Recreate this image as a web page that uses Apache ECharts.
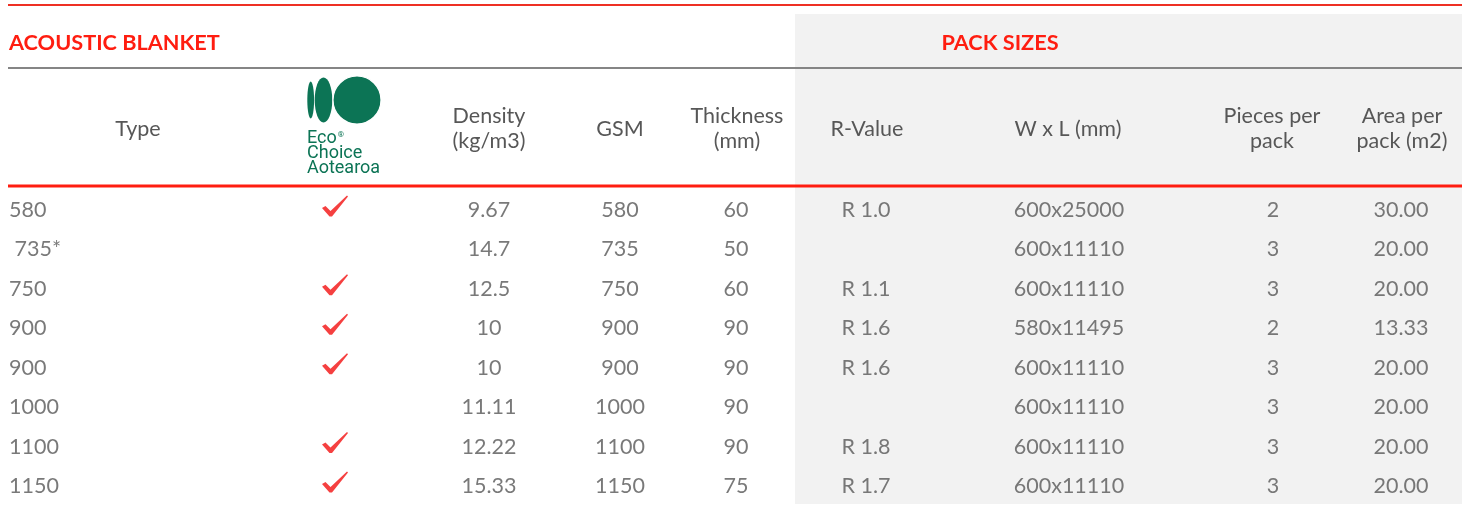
<!DOCTYPE html>
<html><head><meta charset="utf-8">
<script src="https://cdn.jsdelivr.net/npm/echarts@6/dist/echarts.min.js"></script>
<style>html,body{margin:0;padding:0;background:#fff}#c{width:1468px;height:508px}</style>
</head><body><div id="c"></div>
<script>
// ---- data ----
const rowIds = ['r0','r1','r2','r3','r4','r5','r6','r7'];
const types = ['580', ' 735*', '750', '900', '900', '1000', '1100', '1150'];
const ecoChoice = [true, false, true, true, true, false, true, true];
const density = ['9.67', '14.7', '12.5', '10', '10', '11.11', '12.22', '15.33'];
const gsm = ['580', '735', '750', '900', '900', '1000', '1100', '1150'];
const thickness = ['60', '50', '60', '90', '90', '90', '90', '75'];
const rValue = ['R 1.0', '', 'R 1.1', 'R 1.6', 'R 1.6', '', 'R 1.8', 'R 1.7'];
const wxl = ['600x25000', '600x11110', '600x11110', '580x11495', '600x11110', '600x11110', '600x11110', '600x11110'];
const pieces = ['2', '3', '3', '2', '3', '3', '3', '3'];
const area = ['30.00', '20.00', '20.00', '13.33', '20.00', '20.00', '20.00', '20.00'];
const headers = ['Type', '', 'Density\n(kg/m3)', 'GSM', 'Thickness\n(mm)', 'R-Value', 'W x L (mm)', 'Pieces per\npack', 'Area per\npack (m2)'];
const titleLeft = 'ACOUSTIC BLANKET';
const titleRight = 'PACK SIZES';
const logoLines = '{t|Eco}{s|\u00AE}\n{t|Choice}\n{t|Aotearoa}';

// ---- layout ----
const colX = { type: 9, eco: 335, density: 489, gsm: 620, thickness: 736, r: 866, wxl: 1069, pieces: 1273, area: 1401 };
const headerX = [138, 0, 489, 620, 737, 867, 1068, 1272, 1402];
const TXT = '#575757', RED = '#ff1d10', GREEN = '#0c7455';
const FONT = 'Lato';
const FS = 21.5;

function textSeries(col, arr, left) {
  return {
    type: 'scatter', symbolSize: 0, silent: true,
    data: arr.map((v, i) => ({ value: [colX[col], i], label: { formatter: v } })),
    label: {
      show: true, position: left ? 'right' : 'inside', distance: 0, offset: [0, 1],
      color: TXT, fontFamily: FONT, fontSize: FS,
      align: left ? 'left' : 'center', verticalAlign: 'middle'
    }
  };
}

const checkPath = 'path://M0,12.5 L3.5,10.5 L8.5,15.5 L25,0 L26,1 L10,21 L7.5,21 Z';

const graphics = [
  { type: 'rect', shape: { x: 795, y: 14, width: 667, height: 490 }, style: { fill: '#f2f2f2' }, z: -10 },
  { type: 'rect', shape: { x: 8, y: 4, width: 1454, height: 2 }, style: { fill: '#ee3024' } },
  { type: 'rect', shape: { x: 8, y: 67, width: 1454, height: 2 }, style: { fill: '#858585' } },
  { type: 'rect', shape: { x: 8, y: 184.5, width: 1454, height: 3 }, style: { fill: RED } },
  { type: 'text', x: 9, y: 43, style: { text: titleLeft, fill: RED, font: 'bold 21.7px Lato', textAlign: 'left', textVerticalAlign: 'middle' } },
  { type: 'text', x: 1000, y: 43, style: { text: titleRight, fill: RED, font: 'bold 21.7px Lato', textAlign: 'center', textVerticalAlign: 'middle' } },
  // logo
  { type: 'ellipse', shape: { cx: 310.7, cy: 100, rx: 3.4, ry: 18.5 }, style: { fill: GREEN } },
  { type: 'ellipse', shape: { cx: 323.5, cy: 100, rx: 8.8, ry: 22.5 }, style: { fill: GREEN } },
  { type: 'circle', shape: { cx: 357, cy: 100, r: 24 }, style: { fill: GREEN, stroke: '#fff', lineWidth: 1.2 } },
  { type: 'text', x: 307, y: 153, style: { text: logoLines, textAlign: 'left', textVerticalAlign: 'middle',
      rich: { t: { fill: GREEN, fontFamily: 'Roboto', fontSize: 18, lineHeight: 15 },
              s: { fill: GREEN, fontFamily: 'Roboto', fontSize: 8, lineHeight: 15, verticalAlign: 'top', padding: [0,0,6,1] } } } }
];
headers.forEach((h, i) => {
  if (!h) return;
  graphics.push({ type: 'text', x: headerX[i], y: 129, style: { text: h, fill: TXT, fontFamily: FONT, fontSize: FS, lineHeight: 25, textAlign: 'center', textVerticalAlign: 'middle' } });
});

const chart = echarts.init(document.getElementById('c'), null, { renderer: 'canvas' });
chart.setOption({
  animation: false,
  grid: { left: 0, right: 0, top: 189.3, bottom: 3.3 },
  xAxis: { type: 'value', min: 0, max: 1468, show: false },
  yAxis: { type: 'category', data: rowIds, inverse: true, show: false },
  graphic: { elements: graphics },
  series: [
    textSeries('type', types, true),
    textSeries('density', density),
    textSeries('gsm', gsm),
    textSeries('thickness', thickness),
    textSeries('r', rValue),
    textSeries('wxl', wxl),
    textSeries('pieces', pieces),
    textSeries('area', area),
    {
      type: 'scatter', silent: true, symbol: checkPath, symbolSize: [26, 21], symbolOffset: [0, -3],
      itemStyle: { color: '#f21010' },
      data: ecoChoice.map((v, i) => v ? [colX.eco, i] : null).filter(d => d)
    }
  ]
});
</script></body></html>
